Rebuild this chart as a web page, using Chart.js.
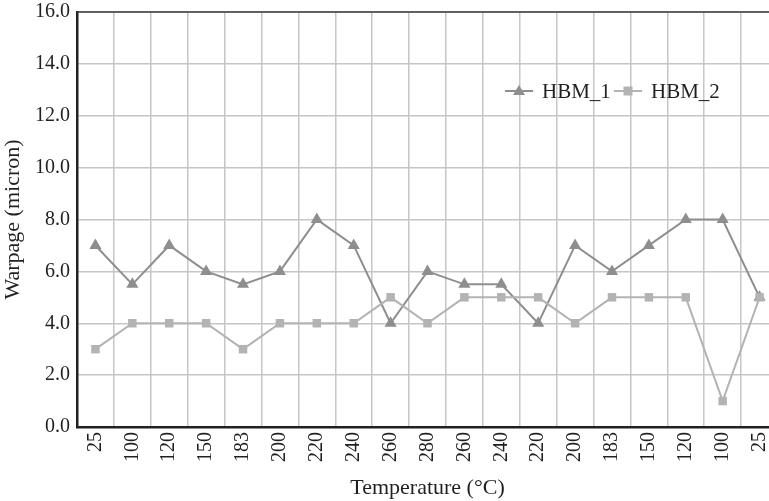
<!DOCTYPE html>
<html>
<head>
<meta charset="utf-8">
<script src="https://cdn.jsdelivr.net/npm/chart.js@4.4.1/dist/chart.umd.min.js"></script>
<style>
  html, body { margin: 0; padding: 0; background: #fff; overflow: hidden; }
  #wrap { position: relative; width: 769px; height: 501px; overflow: hidden; }
  canvas { display: block; }
</style>
</head>
<body>
<div id="wrap"><canvas id="c" width="790" height="501"></canvas></div>
<script>
const categories = ["25","100","120","150","183","200","220","240","260","280","260","240","220","200","183","150","120","100","25"];
const hbm1 = [7, 5.5, 7, 6, 5.5, 6, 8, 7, 4, 6, 5.5, 5.5, 4, 7, 6, 7, 8, 8, 5];
const hbm2 = [3, 4, 4, 4, 3, 4, 4, 4, 5, 4, 5, 5, 5, 4, 5, 5, 5, 1, 5];
const seriesNames = ["HBM_1", "HBM_2"];

const FONT = "'Liberation Serif', 'Times New Roman', serif";
const C1 = '#8e8e8e';
const C2 = '#b3b3b4';

const legendPlugin = {
  id: 'customLegend',
  afterDraw(chart) {
    const ctx = chart.ctx;
    ctx.save();
    ctx.font = "21px " + FONT;
    ctx.textBaseline = 'middle';
    const y = 91;
    const items = [
      { name: seriesNames[0], color: C1, style: 'triangle', x: 505 },
      { name: seriesNames[1], color: C2, style: 'rect', x: 614 }
    ];
    items.forEach(it => {
      ctx.strokeStyle = it.color;
      ctx.lineWidth = 2;
      ctx.beginPath();
      ctx.moveTo(it.x, y); ctx.lineTo(it.x + 28, y); ctx.stroke();
      ctx.fillStyle = it.color;
      const cx = it.x + 14;
      if (it.style === 'triangle') {
        ctx.beginPath();
        ctx.moveTo(cx, y - 6); ctx.lineTo(cx + 6, y + 4); ctx.lineTo(cx - 6, y + 4); ctx.closePath(); ctx.fill();
      } else {
        ctx.fillRect(cx - 4.5, y - 4.5, 9, 9);
      }
      ctx.fillStyle = '#231f20';
      ctx.textAlign = 'left';
      ctx.fillText(it.name, it.x + 37, y + 1);
    });
    ctx.restore();
  }
};

const topBorder = {
  id: 'topBorder',
  beforeDatasetsDraw(chart) {
    const { ctx, chartArea } = chart;
    ctx.save();
    ctx.strokeStyle = '#3a3a3a';
    ctx.lineWidth = 1.5;
    ctx.beginPath();
    ctx.moveTo(chartArea.left, chartArea.top);
    ctx.lineTo(chartArea.right, chartArea.top);
    ctx.stroke();
    ctx.restore();
  }
};

new Chart(document.getElementById('c'), {
  type: 'line',
  data: {
    labels: categories,
    datasets: [
      {
        label: seriesNames[0], data: hbm1, order: 1,
        borderColor: C1, backgroundColor: C1, borderWidth: 2,
        pointStyle: 'triangle', pointRadius: 7, pointBorderWidth: 0,
        pointBackgroundColor: C1, tension: 0
      },
      {
        label: seriesNames[1], data: hbm2, order: 0,
        borderColor: C2, backgroundColor: C2, borderWidth: 2,
        pointStyle: 'rect', pointRadius: 6, pointBorderWidth: 0,
        pointBackgroundColor: C2, tension: 0
      }
    ]
  },
  options: {
    responsive: false,
    animation: false,
    layout: { padding: { top: 12, right: 12, left: 0, bottom: 0 } },
    plugins: {
      legend: { display: false },
      tooltip: { enabled: false }
    },
    scales: {
      x: {
        offset: true,
        grid: { offset: true, color: '#c6c6c6', lineWidth: 1.5, drawTicks: false },
        border: { color: '#231f20', width: 2.5 },
        ticks: {
          color: '#231f20', font: { family: FONT, size: 20 },
          minRotation: 90, maxRotation: 90, padding: 5, autoSkip: false
        },
        title: {
          display: true, text: 'Temperature (°C)', color: '#231f20',
          font: { family: FONT, size: 22 }, padding: { top: 2, bottom: 0 }
        },
        afterFit(scale) { scale.height = 74; scale.paddingLeft = 0; scale.paddingRight = 0; }
      },
      y: {
        min: 0, max: 16,
        grid: { color: '#c6c6c6', lineWidth: 1.5, drawTicks: false },
        border: { color: '#231f20', width: 2.5 },
        ticks: {
          stepSize: 2, color: '#231f20', font: { family: FONT, size: 20 }, padding: 7,
          callback: v => v.toFixed(1)
        },
        title: {
          display: true, text: 'Warpage (micron)', color: '#231f20',
          font: { family: FONT, size: 22 }, padding: { top: 0, bottom: 2 }
        },
        afterFit(scale) { scale.width = 77; scale.paddingTop = 0; scale.paddingBottom = 0; }
      }
    }
  },
  plugins: [topBorder, legendPlugin]
});
</script>
</body>
</html>
